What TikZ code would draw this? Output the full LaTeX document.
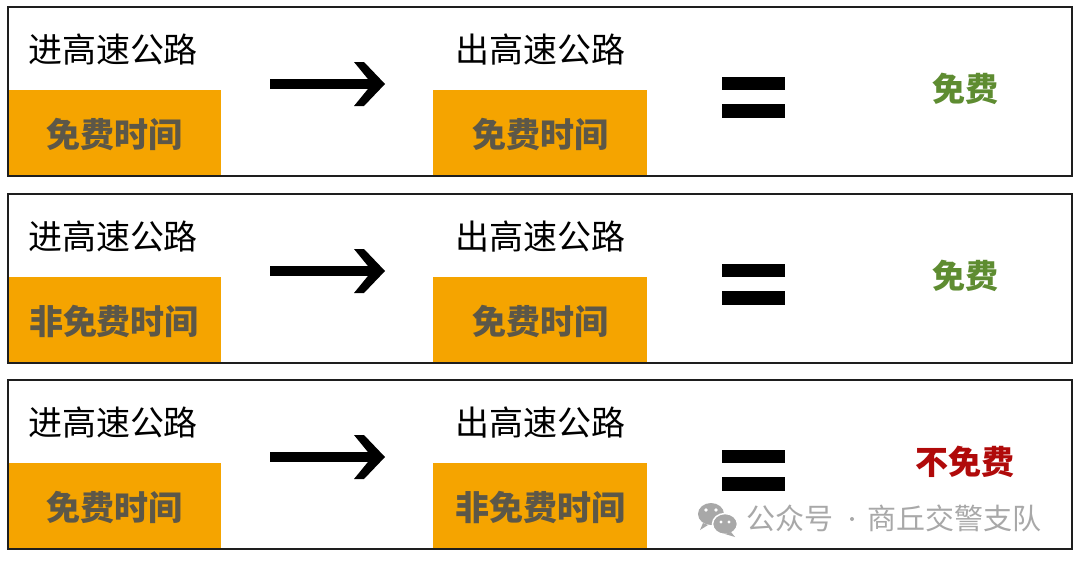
\documentclass[tikz,border=0pt]{standalone}
\usepackage{fontspec}
\setmainfont{Noto Sans CJK SC}
\definecolor{orangeC}{HTML}{F5A400}
\definecolor{grayT}{HTML}{5C5748}
\definecolor{greenT}{HTML}{5E8C31}
\definecolor{redT}{HTML}{B00A0A}
\definecolor{wmgray}{HTML}{A8A8A8}
\definecolor{frameC}{HTML}{1E1E1E}
\begin{document}
\begin{tikzpicture}[x=1pt,y=-1pt,
  frame/.style={draw=frameC, line width=2pt},
  orangebox/.style={fill=orangeC},
  headtxt/.style={font=\fontsize{34}{34}\selectfont, text=black, inner sep=0pt},
  timetxt/.style={font=\fontsize{34}{34}\selectfont\bfseries, text=grayT, inner sep=0pt},
  freetxt/.style={font=\fontsize{33}{33}\selectfont\bfseries, text=greenT, inner sep=0pt},
  nofreetxt/.style={font=\fontsize{33}{33}\selectfont\bfseries, text=redT, inner sep=0pt},
  wmtxt/.style={font=\fontsize{29}{29}\selectfont, text=wmgray, inner sep=0pt},
  eqbar/.style={fill=black},
  shaft/.style={draw=black, line width=10pt},
  arrowhead/.style={fill=black},
  ]
\useasboundingbox[fill=white] (0,0) rectangle (1080,562);
\foreach \r/\T/\lt/\rt/\res/\rs in {1/7/免费时间/免费时间/免费/freetxt,
                                     2/194/非免费时间/免费时间/免费/freetxt,
                                     3/380/免费时间/非免费时间/不免费/nofreetxt}{
  \fill[orangebox] (8,\T+83) rectangle (221,\T+169);
  \fill[orangebox] (433,\T+83) rectangle (647,\T+169);
  \draw[frame] (8,\T) rectangle (1072,\T+169);
  \node[headtxt] (in\r) at (113,\T+43) {进高速公路};
  \node[headtxt] (out\r) at (540,\T+43) {出高速公路};
  \node[timetxt] (tin\r) at (114,\T+127) {\lt};
  \node[timetxt] (tout\r) at (540,\T+127) {\rt};
  \node[\rs] (res\r) at (965,\T+82) {\res};
  \fill[eqbar] (722,\T+70) rectangle (785,\T+83);
  \fill[eqbar] (722,\T+97) rectangle (785,\T+111);
  \coordinate (as\r) at (270,\T+77);
  \coordinate (ae\r) at (385,\T+77);
  \draw[shaft] (as\r) -- ([xshift=-10pt]ae\r);
  \fill[arrowhead, shift={(ae\r)}] (0,0) -- (-21,-22) -- (-31,-22) -- (-13,0)
        -- (-31,22) -- (-21,22) -- cycle;
}
% watermark
\fill[wmgray] (711,514) ellipse [x radius=13, y radius=11];
\fill[wmgray] (703,523) -- (700,530) -- (708,525) -- cycle;
\draw[white, line width=1.5pt, fill=wmgray] (725,524) ellipse [x radius=12.5, y radius=10.5];
\fill[wmgray] (731,532) -- (735,537) -- (725,534) -- cycle;
\fill[white] (706,510) circle (1.9);
\fill[white] (716,510) circle (1.9);
\fill[white] (721,522) circle (1.6);
\fill[white] (729,522) circle (1.6);
\node[wmtxt, anchor=west] (wm1) at (746,518) {公众号};
\fill[wmgray] (852,519) circle (2);
\node[wmtxt, anchor=west] (wm2) at (867,518) {商丘交警支队};
\end{tikzpicture}
\end{document}
